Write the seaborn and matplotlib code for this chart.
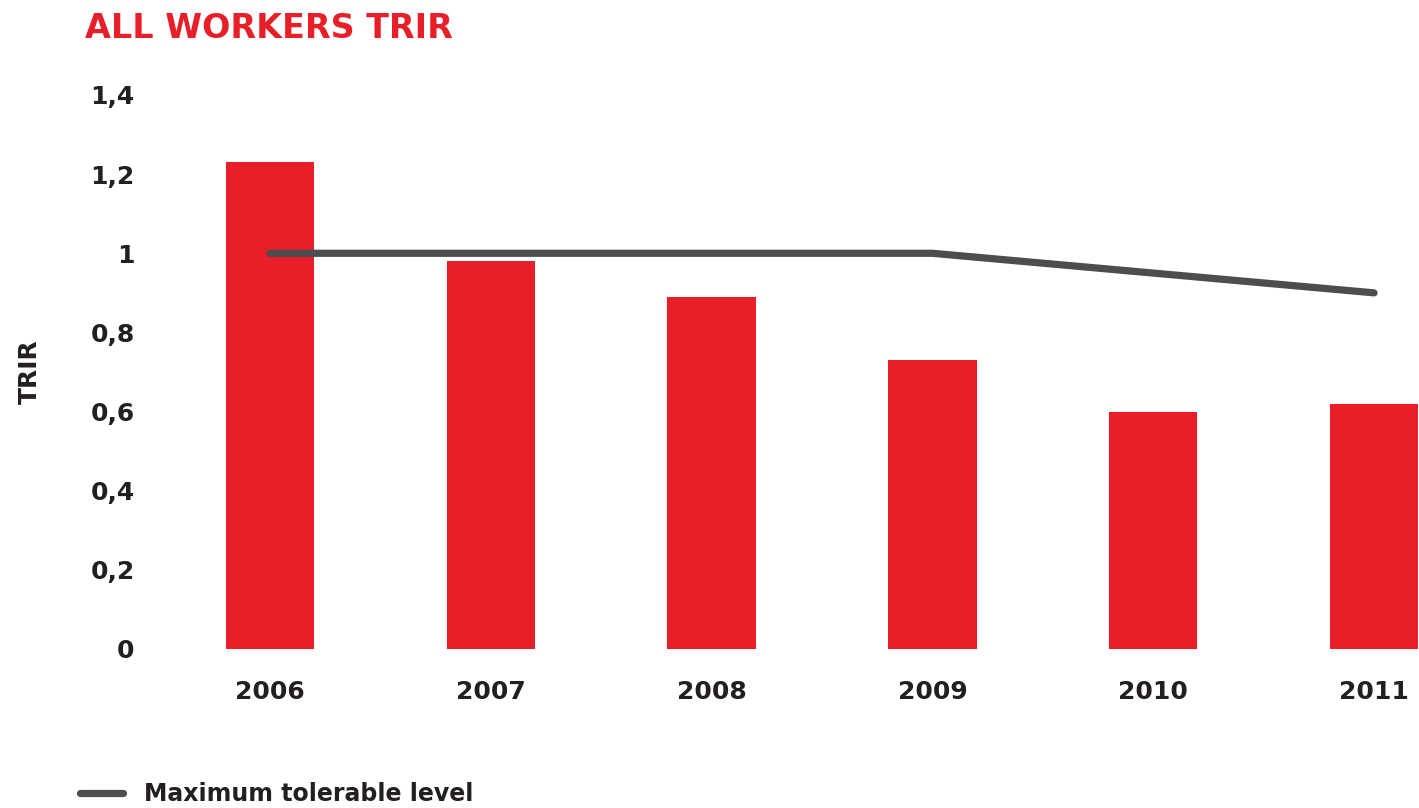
import matplotlib
matplotlib.use("Agg")
import matplotlib.pyplot as plt
from matplotlib.lines import Line2D
import seaborn as sns
import pandas as pd

years = ["2006", "2007", "2008", "2009", "2010", "2011"]
trir = [1.23, 0.98, 0.89, 0.73, 0.60, 0.62]
max_tolerable = [1.0, 1.0, 1.0, 1.0, 0.95, 0.90]
y_ticks = [0, 0.2, 0.4, 0.6, 0.8, 1.0, 1.2, 1.4]
y_tick_labels = ["0", "0,2", "0,4", "0,6", "0,8", "1", "1,2", "1,4"]

RED = "#E81F28"
GREY = "#4D4D4F"
TEXT = "#231F20"

sns.set_theme(style="white")
plt.rcParams["font.family"] = ["DejaVu Sans"]

df = pd.DataFrame({"year": years, "trir": trir, "target": max_tolerable})

W, H = 1419, 808
fig = plt.figure(figsize=(W / 100, H / 100), dpi=100)
ax = fig.add_axes([159.6 / W, (H - 649) / H, (1418.2 - 159.6) / W, (649 - 95) / H])

sns.barplot(data=df, x="year", y="trir", color=RED, width=0.4,
            saturation=1, ax=ax, linewidth=0)
sns.pointplot(data=df, x="year", y="target", color=GREY, markers="",
              linestyles="-", errorbar=None, ax=ax)
for ln in ax.lines:
    ln.set_linewidth(5.2)
    ln.set_solid_capstyle("round")
    ln.set_color(GREY)

ax.set_xlim(-0.5, 5.2)
ax.set_ylim(0, 1.4)
ax.set_yticks(y_ticks)
ax.set_yticklabels(y_tick_labels)
ax.tick_params(axis="both", length=0, labelsize=18, labelcolor=TEXT)
ax.tick_params(axis="y", pad=18)
ax.tick_params(axis="x", pad=22)
for lab in ax.get_xticklabels() + ax.get_yticklabels():
    lab.set_fontweight("bold")
ax.set_xlabel("")
ax.set_ylabel("")
for s in ax.spines.values():
    s.set_visible(False)
ax.grid(False)

fig.text(85 / W, 1 - 29 / H, "ALL WORKERS TRIR", color=RED, fontsize=24,
         fontweight="heavy", va="center", ha="left")
fig.text(30 / W, 1 - 372 / H, "TRIR", color=TEXT, fontsize=18,
         fontweight="bold", rotation=90, va="center", ha="center")

handle = Line2D([0], [0], color=GREY, linewidth=5.2, solid_capstyle="round")
fig.legend(handles=[handle], labels=["Maximum tolerable level"],
           loc="center left", bbox_to_anchor=(80 / W, 1 - 794 / H),
           frameon=False, handlelength=1.8, handletextpad=0.9,
           prop={"size": 17, "weight": "bold"}, labelcolor=TEXT,
           borderpad=0, borderaxespad=0)

fig.savefig("out.png", dpi=100, facecolor="white")
